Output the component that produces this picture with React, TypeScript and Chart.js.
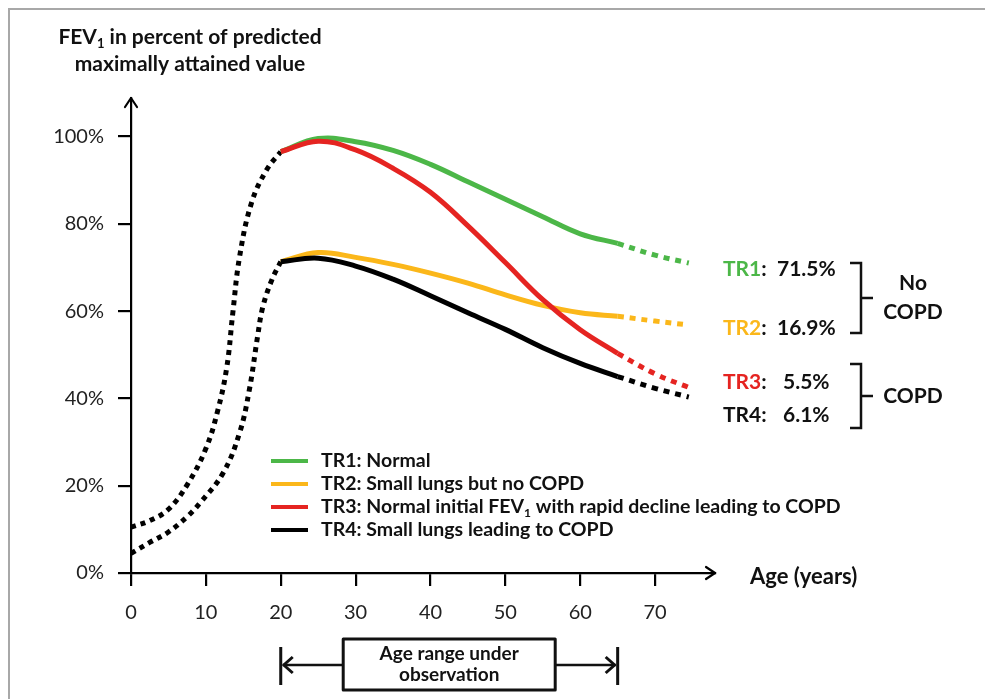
import React, { useEffect, useRef } from "react";
import { Chart, registerables } from "chart.js";

Chart.register(...registerables);

const FONT = "Lato, 'Open Sans', sans-serif";

// ---- axes ----
const X_MIN = 0;
const X_MAX = 78;
const Y_MIN = 0;
const Y_MAX = 108.8;
const X_TICK_STEP = 10;
const Y_TICK_STEP = 20;

// ---- growth phase (dotted, ages 0-20) ----
const GROWTH_NORMAL_AGES = [0, 2.5, 5, 7.5, 10, 11.6, 12.8, 13.6, 14.5, 16.1, 18.1, 20];
const GROWTH_NORMAL_VALUES = [10.5, 12.0, 14.6, 20.2, 28.5, 37.3, 47.2, 59.6, 72.4, 84.8, 92.3, 96.5];
const GROWTH_SMALL_AGES = [0, 2.5, 5, 7.5, 9.2, 12.3, 14.5, 15.8, 16.9, 17.6, 18.8, 20];
const GROWTH_SMALL_VALUES = [4.5, 7.0, 9.4, 12.9, 16.0, 22.9, 32.1, 41.9, 54.1, 60.9, 67.1, 71.3];

// ---- trajectories, observed (solid, ages 20-65) ----
const OBS_AGES = [20, 25, 30, 35, 40, 45, 50, 55, 60, 65];
const TR1_VALUES = [96.5, 99.5, 98.8, 96.8, 93.6, 89.6, 85.6, 81.6, 77.7, 75.5];
const TR2_VALUES = [71.3, 73.4, 72.3, 70.7, 68.7, 66.4, 63.7, 61.3, 59.6, 58.8];
const TR3_VALUES = [96.5, 98.9, 96.9, 92.7, 87.2, 79.5, 71.1, 62.6, 55.7, 50.3];
const TR4_VALUES = [71.3, 72.1, 70.3, 67.3, 63.5, 59.6, 55.8, 51.6, 48.0, 45.0];

// ---- trajectories, extrapolated (dotted, ages 65-75) ----
const EXT_AGES = [65, 70, 74.5];
const TR1_EXT_VALUES = [75.5, 72.8, 71.0];
const TR2_EXT_VALUES = [58.8, 57.7, 56.8];
const TR3_EXT_VALUES = [50.3, 45.6, 42.5];
const TR4_EXT_VALUES = [45.0, 42.3, 40.3];

// ---- labels ----
const SERIES_NAMES = ["TR1", "TR2", "TR3", "TR4"];
const SERIES_COLORS = ["#4CB748", "#FBB71A", "#E52421", "#000000"];
const LEGEND_LABELS = [
  "TR1: Normal",
  "TR2: Small lungs but no COPD",
  "TR3: Normal initial FEV₁ with rapid decline leading to COPD",
  "TR4: Small lungs leading to COPD",
];
const PREVALENCE = ["71.5%", "16.9%", "5.5%", "6.1%"];
const GROUP_NO_COPD = ["No", "COPD"];
const GROUP_COPD = ["COPD"];
const OBSERVATION_RANGE = [20, 65];
const OBSERVATION_LABEL = ["Age range under", "observation"];
const TITLE_LINES = ["FEV₁ in percent of predicted", "maximally attained value"];
const X_AXIS_LABEL = "Age (years)";

const pts = (ages: number[], vals: number[]) => ages.map((a, i) => ({ x: a, y: vals[i] }));

function drawRich(
  ctx: CanvasRenderingContext2D,
  text: string,
  x: number,
  y: number,
  size: number,
  weight: string,
  color: string,
  align: "left" | "center" | "right" = "left"
) {
  const parts = text.split("₁");
  const main = `${weight} ${size}px ${FONT}`;
  const sub = `${weight} ${Math.round(size * 0.62)}px ${FONT}`;
  const segs: { t: string; sub: boolean; w: number }[] = [];
  parts.forEach((p, i) => {
    if (p) segs.push({ t: p, sub: false, w: 0 });
    if (i < parts.length - 1) segs.push({ t: "1", sub: true, w: 0 });
  });
  let total = 0;
  segs.forEach((s) => {
    ctx.font = s.sub ? sub : main;
    s.w = ctx.measureText(s.t).width;
    total += s.w;
  });
  let cx = align === "center" ? x - total / 2 : align === "right" ? x - total : x;
  ctx.fillStyle = color;
  ctx.textBaseline = "middle";
  ctx.textAlign = "left";
  segs.forEach((s) => {
    ctx.font = s.sub ? sub : main;
    ctx.fillText(s.t, cx, s.sub ? y + size * 0.32 : y);
    cx += s.w;
  });
  return total;
}

const overlay = {
  id: "overlay",
  beforeDraw(chart: any) {
    const ctx: CanvasRenderingContext2D = chart.ctx;
    ctx.save();
    ctx.fillStyle = "#ffffff";
    ctx.fillRect(0, 0, chart.width, chart.height);
    ctx.strokeStyle = "#a8a8a8";
    ctx.lineWidth = 2;
    ctx.beginPath();
    ctx.moveTo(9, chart.height);
    ctx.lineTo(9, 9);
    ctx.lineTo(chart.width, 9);
    ctx.stroke();
    ctx.restore();
  },
  afterDraw(chart: any) {
    const ctx: CanvasRenderingContext2D = chart.ctx;
    const { left, right, top, bottom } = chart.chartArea;
    const xs = chart.scales.x;
    ctx.save();
    ctx.strokeStyle = "#000";
    ctx.lineWidth = 2.2;
    ctx.lineCap = "round";
    ctx.lineJoin = "round";
    // axis arrows
    ctx.beginPath();
    ctx.moveTo(right - 9, bottom - 6);
    ctx.lineTo(right, bottom);
    ctx.lineTo(right - 9, bottom + 6);
    ctx.moveTo(left - 6, top + 9);
    ctx.lineTo(left, top);
    ctx.lineTo(left + 6, top + 9);
    ctx.stroke();

    // title
    drawRich(ctx, TITLE_LINES[0], 190, 37, 21, "bold", "#111", "center");
    drawRich(ctx, TITLE_LINES[1], 190, 64, 21, "bold", "#111", "center");

    // x axis label
    drawRich(ctx, X_AXIS_LABEL, 750, 577, 22, "bold", "#111", "left");

    // legend
    const legendY = [461, 484, 507, 530];
    LEGEND_LABELS.forEach((lab, i) => {
      ctx.strokeStyle = SERIES_COLORS[i];
      ctx.lineWidth = 4;
      ctx.lineCap = "butt";
      ctx.beginPath();
      ctx.moveTo(271, legendY[i]);
      ctx.lineTo(308, legendY[i]);
      ctx.stroke();
      drawRich(ctx, lab, 321, legendY[i], 19.5, "bold", "#111", "left");
    });

    // right-hand prevalence labels
    const rowY = [269, 328, 382, 415];
    SERIES_NAMES.forEach((nm, i) => {
      const w = drawRich(ctx, nm, 723, rowY[i], 21, "bold", i === 3 ? "#111" : SERIES_COLORS[i], "left");
      drawRich(ctx, ":", 723 + w, rowY[i], 21, "bold", "#111", "left");
      drawRich(ctx, PREVALENCE[i], i < 2 ? 777 : 783, rowY[i], 21, "bold", "#111", "left");
    });

    // brackets
    ctx.strokeStyle = "#111";
    ctx.lineWidth = 2.5;
    ctx.lineCap = "butt";
    ctx.lineJoin = "miter";
    const bracket = (t: number, b: number) => {
      const m = (t + b) / 2;
      ctx.beginPath();
      ctx.moveTo(850, t);
      ctx.lineTo(861, t);
      ctx.lineTo(861, b);
      ctx.lineTo(850, b);
      ctx.moveTo(861, m);
      ctx.lineTo(873, m);
      ctx.stroke();
    };
    bracket(263, 333);
    bracket(364, 428);
    drawRich(ctx, GROUP_NO_COPD[0], 913, 283, 21, "bold", "#111", "center");
    drawRich(ctx, GROUP_NO_COPD[1], 913, 312, 21, "bold", "#111", "center");
    drawRich(ctx, GROUP_COPD[0], 913, 396, 21, "bold", "#111", "center");

    // observation range
    const xl = xs.getPixelForValue(OBSERVATION_RANGE[0]);
    const xr = xs.getPixelForValue(OBSERVATION_RANGE[1]);
    const cx = (xl + xr) / 2;
    const bw = 212;
    const boxL = cx - bw / 2;
    const boxR = cx + bw / 2;
    const ay = 665;
    ctx.lineWidth = 3;
    ctx.beginPath();
    ctx.moveTo(xl, 647);
    ctx.lineTo(xl, 685);
    ctx.moveTo(xr, 647);
    ctx.lineTo(xr, 685);
    ctx.stroke();
    ctx.lineWidth = 2.5;
    ctx.beginPath();
    ctx.moveTo(xl + 2, ay);
    ctx.lineTo(boxL, ay);
    ctx.moveTo(boxR, ay);
    ctx.lineTo(xr - 2, ay);
    ctx.stroke();
    ctx.lineWidth = 3;
    ctx.lineJoin = "round";
    ctx.beginPath();
    ctx.moveTo(xl + 12, ay - 8);
    ctx.lineTo(xl + 3, ay);
    ctx.lineTo(xl + 12, ay + 8);
    ctx.moveTo(xr - 12, ay - 8);
    ctx.lineTo(xr - 3, ay);
    ctx.lineTo(xr - 12, ay + 8);
    ctx.stroke();
    ctx.lineWidth = 3;
    ctx.strokeRect(boxL, 639, bw, 51);
    drawRich(ctx, OBSERVATION_LABEL[0], cx, 654, 19, "bold", "#111", "center");
    drawRich(ctx, OBSERVATION_LABEL[1], cx, 675, 19, "bold", "#111", "center");
    ctx.restore();
  },
};

export default function App() {
  const ref = useRef<HTMLCanvasElement>(null);

  useEffect(() => {
    const solid = (ages: number[], vals: number[], color: string) => ({
      data: pts(ages, vals),
      borderColor: color,
      backgroundColor: color,
      borderWidth: 5,
      borderCapStyle: "butt" as const,
      pointRadius: 0,
      tension: 0.4,
      fill: false,
    });
    const dotted = (ages: number[], vals: number[], color: string, dash: number[]) => ({
      ...solid(ages, vals, color),
      borderDash: dash,
    });

    const datasets = [
      solid(OBS_AGES, TR3_VALUES, SERIES_COLORS[2]),
      solid(OBS_AGES, TR1_VALUES, SERIES_COLORS[0]),
      solid(OBS_AGES, TR4_VALUES, SERIES_COLORS[3]),
      solid(OBS_AGES, TR2_VALUES, SERIES_COLORS[1]),
      dotted(EXT_AGES, TR1_EXT_VALUES, SERIES_COLORS[0], [6, 6]),
      dotted(EXT_AGES, TR2_EXT_VALUES, SERIES_COLORS[1], [6, 6]),
      dotted(EXT_AGES, TR3_EXT_VALUES, SERIES_COLORS[2], [6, 6]),
      dotted(EXT_AGES, TR4_EXT_VALUES, SERIES_COLORS[3], [6, 6]),
      dotted(GROWTH_NORMAL_AGES, GROWTH_NORMAL_VALUES, "#000", [5, 5]),
      dotted(GROWTH_SMALL_AGES, GROWTH_SMALL_VALUES, "#000", [5, 5]),
    ];

    const tickFont = { family: FONT, size: 20, weight: "normal" as const };

    const chart = new Chart(ref.current as HTMLCanvasElement, {
      type: "line",
      data: { datasets: datasets as any },
      options: {
        responsive: false,
        animation: false,
        layout: { padding: { left: 51, top: 98, right: 270, bottom: 76 } },
        plugins: { legend: { display: false }, tooltip: { enabled: false }, title: { display: false } },
        scales: {
          x: {
            type: "linear",
            min: X_MIN,
            max: X_MAX,
            border: { display: true, color: "#000", width: 2.2 },
            grid: { display: true, drawOnChartArea: false, drawTicks: true, tickLength: 13, color: "#000", lineWidth: 2.2 },
            ticks: {
              stepSize: X_TICK_STEP,
              includeBounds: false,
              padding: 15,
              color: "#222",
              font: tickFont,
              maxRotation: 0,
              autoSkip: false,
            },
            afterFit: (s: any) => {
              s.height = 50;
            },
          },
          y: {
            type: "linear",
            min: Y_MIN,
            max: Y_MAX,
            border: { display: true, color: "#000", width: 2.2 },
            grid: { display: true, drawOnChartArea: false, drawTicks: true, tickLength: 13, color: "#000", lineWidth: 2.2 },
            ticks: {
              stepSize: Y_TICK_STEP,
              includeBounds: false,
              padding: 14,
              color: "#222",
              font: tickFont,
              callback: (v: any) => `${v}%`,
            },
            afterFit: (s: any) => {
              s.width = 80;
            },
          },
        },
      },
      plugins: [overlay],
    });

    let alive = true;
    if ((document as any).fonts?.load) {
      Promise.all([
        (document as any).fonts.load(`bold 20px Lato`),
        (document as any).fonts.load(`20px Lato`),
      ]).then(() => {
        if (alive) chart.update();
      });
    }
    return () => {
      alive = false;
      chart.destroy();
    };
  }, []);

  return (
    <div style={{ position: "absolute", left: 0, top: 0, width: 985, height: 699, background: "#fff" }}>
      <canvas ref={ref} width={985} height={699} style={{ display: "block", width: 985, height: 699 }} />
    </div>
  );
}
